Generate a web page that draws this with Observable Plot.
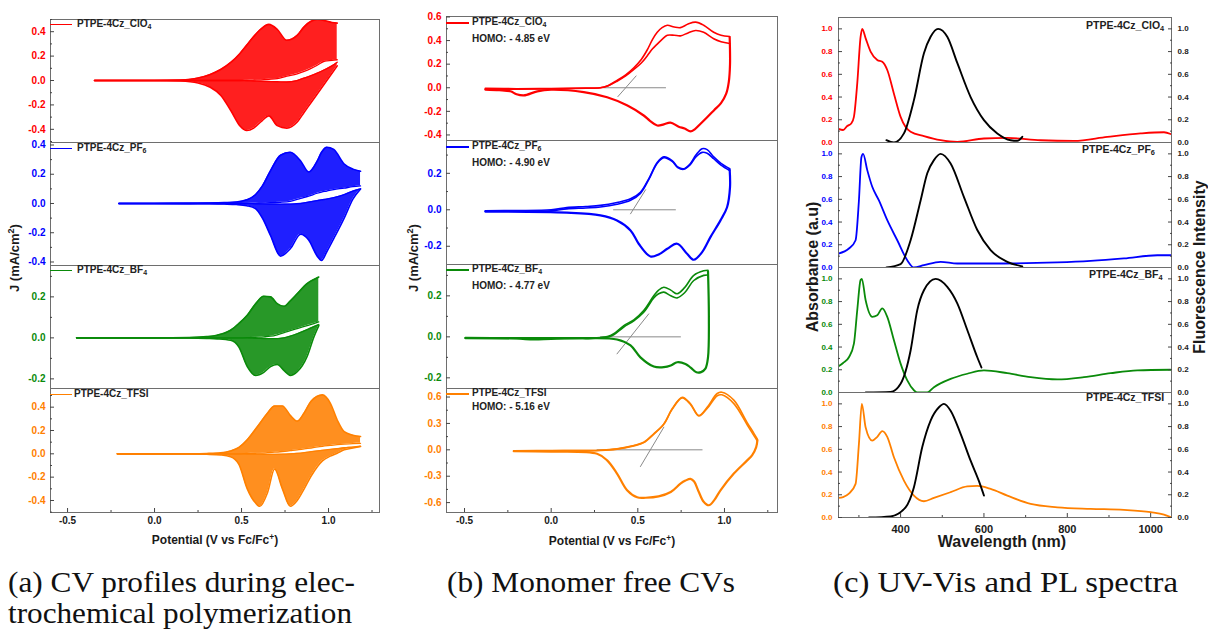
<!DOCTYPE html>
<html>
<head>
<meta charset="utf-8">
<script src="https://cdn.jsdelivr.net/npm/d3@7"></script>
<script src="https://cdn.jsdelivr.net/npm/@observablehq/plot@0.6"></script>
<style>
  body { margin: 0; background: #fff; }
  #fig { position: relative; width: 1208px; height: 632px; overflow: hidden; background: #fff;
         font-family: "Liberation Sans", Arial, sans-serif; color: #1a1a1a; }
  #fig svg.plotsvg { position: absolute; }
  #fig svg.plotsvg text { font-weight: bold; }
  .lab { position: absolute; font-weight: bold; white-space: nowrap; line-height: 1; }
  .lab sub { font-size: 70%; vertical-align: -0.25em; line-height: 0; }
  .lab sup { font-size: 70%; vertical-align: 0.45em; line-height: 0; }
  .rot { transform: translate(-50%, -50%) rotate(-90deg); }
  .ctr { transform: translate(-50%, -50%); }
  .swatch { position: absolute; height: 0; }
</style>
</head>
<body>
<div id="fig"></div>
<script>
// ---------- colours ----------
const RED = "#ff0000", BLUE = "#0000ff", GREEN = "#0a8a0a", ORANGE = "#ff8000";

// ---------- (a) electropolymerisation CVs: first and last cycle of each sweep ----------
const aV_ClO4      = [-0.345, 0.0, 0.15, 0.25, 0.32, 0.38, 0.44, 0.49, 0.53, 0.57, 0.61, 0.657, 0.705, 0.76, 0.82, 0.86, 0.9, 0.935, 0.98, 1.02, 1.05];
const aFwdLast_ClO4  = [0, 0, 0.004, 0.02, 0.05, 0.09, 0.15, 0.22, 0.29, 0.36, 0.42, 0.46, 0.42, 0.33, 0.37, 0.44, 0.485, 0.50, 0.49, 0.475, 0.47];
const aFwdFirst_ClO4 = [0, 0, 0, 0, 0, 0, 0, 0, 0.002, 0.004, 0.006, 0.01, 0.015, 0.035, 0.055, 0.075, 0.10, 0.125, 0.16, 0.165, 0.17];
const aRevFirst_ClO4 = [0, 0, 0, 0, 0, 0, 0, 0, -0.003, -0.004, -0.006, -0.008, -0.01, -0.012, 0.0, 0.02, 0.04, 0.06, 0.09, 0.12, 0.15];
const aRevLast_ClO4  = [0, 0, -0.004, -0.02, -0.055, -0.12, -0.25, -0.37, -0.41, -0.39, -0.34, -0.29, -0.37, -0.39, -0.34, -0.26, -0.18, -0.11, -0.02, 0.06, 0.12];

const aV_PF6       = [-0.205, 0.0, 0.2, 0.3, 0.4, 0.47, 0.53, 0.58, 0.62, 0.667, 0.724, 0.78, 0.84, 0.886, 0.935, 0.96, 0.99, 1.03, 1.09, 1.14, 1.184];
const aFwdLast_PF6   = [0, 0, 0.001, 0.003, 0.006, 0.01, 0.025, 0.06, 0.12, 0.225, 0.33, 0.35, 0.29, 0.215, 0.29, 0.35, 0.385, 0.37, 0.27, 0.235, 0.22];
const aFwdFirst_PF6  = [0, 0, 0, 0, 0, 0, 0.002, 0.003, 0.004, 0.005, 0.008, 0.015, 0.035, 0.05, 0.07, 0.078, 0.085, 0.095, 0.105, 0.115, 0.12];
const aRevFirst_PF6  = [0, 0, 0, 0, 0, 0, 0, -0.002, -0.003, -0.004, -0.005, -0.004, 0.0, 0.01, 0.02, 0.025, 0.03, 0.04, 0.06, 0.085, 0.10];
const aRevLast_PF6   = [0, 0, -0.001, -0.002, -0.004, -0.007, -0.015, -0.035, -0.10, -0.22, -0.36, -0.31, -0.21, -0.25, -0.36, -0.39, -0.33, -0.24, -0.10, 0.03, 0.10];

const aV_BF4       = [-0.448, 0.0, 0.2, 0.3, 0.36, 0.437, 0.485, 0.533, 0.58, 0.628, 0.667, 0.705, 0.745, 0.78, 0.82, 0.877, 0.916, 0.944];
const aFwdLast_BF4   = [0, 0, 0.002, 0.006, 0.013, 0.037, 0.07, 0.11, 0.165, 0.203, 0.20, 0.167, 0.154, 0.18, 0.215, 0.265, 0.285, 0.297];
const aFwdFirst_BF4  = [0, 0, 0, 0, 0, 0, 0, 0.001, 0.003, 0.005, 0.008, 0.015, 0.025, 0.035, 0.045, 0.06, 0.07, 0.078];
const aRevFirst_BF4  = [0, 0, 0, 0, 0, 0, 0, 0, -0.002, -0.003, -0.004, -0.004, 0.0, 0.008, 0.02, 0.04, 0.055, 0.065];
const aRevLast_BF4   = [0, 0, -0.001, -0.003, -0.005, -0.012, -0.045, -0.14, -0.183, -0.168, -0.14, -0.13, -0.16, -0.183, -0.165, -0.09, 0.005, 0.06];

const aV_TFSI      = [-0.214, 0.0, 0.2, 0.3, 0.38, 0.437, 0.485, 0.533, 0.58, 0.605, 0.65, 0.69, 0.735, 0.78, 0.82, 0.86, 0.9, 0.965, 1.01, 1.05, 1.09, 1.14, 1.184];
const aFwdLast_TFSI  = [0, 0, 0.001, 0.003, 0.008, 0.025, 0.055, 0.12, 0.21, 0.26, 0.35, 0.41, 0.41, 0.33, 0.28, 0.35, 0.45, 0.505, 0.435, 0.29, 0.19, 0.16, 0.148];
const aFwdFirst_TFSI = [0, 0, 0, 0, 0, 0, 0, 0.003, 0.005, 0.006, 0.01, 0.014, 0.02, 0.027, 0.033, 0.042, 0.05, 0.065, 0.072, 0.078, 0.083, 0.088, 0.09];
const aRevFirst_TFSI = [0, 0, 0, 0, 0, 0, 0, -0.002, -0.003, -0.003, -0.004, -0.004, -0.003, 0.0, 0.004, 0.01, 0.018, 0.03, 0.038, 0.045, 0.052, 0.058, 0.065];
const aRevLast_TFSI  = [0, 0, -0.001, -0.004, -0.01, -0.025, -0.09, -0.30, -0.42, -0.45, -0.33, -0.13, -0.30, -0.45, -0.40, -0.30, -0.19, -0.06, -0.02, 0.005, 0.034, 0.05, 0.063];

// ---------- (b) monomer-free CVs: [V, J] pairs ----------
const bFwdA_ClO4 = [[-0.38,-0.005],[-0.2,-0.008],[0,-0.006],[0.2,-0.002],[0.284,0],[0.33,0.02],[0.38,0.062],[0.43,0.11],[0.477,0.17],[0.52,0.24],[0.554,0.32],[0.585,0.41],[0.612,0.47],[0.64,0.51],[0.67,0.53],[0.71,0.515],[0.746,0.51],[0.79,0.54],[0.833,0.556],[0.88,0.53],[0.938,0.47],[0.98,0.445],[1.03,0.435]];
const bFwdB_ClO4 = [[-0.38,-0.01],[-0.2,-0.012],[0,-0.01],[0.2,-0.004],[0.284,0],[0.33,0.018],[0.38,0.055],[0.43,0.1],[0.477,0.155],[0.52,0.21],[0.554,0.27],[0.585,0.33],[0.612,0.37],[0.64,0.41],[0.67,0.445],[0.71,0.445],[0.746,0.44],[0.79,0.465],[0.833,0.485],[0.88,0.47],[0.938,0.415],[0.98,0.39],[1.03,0.375]];
const bRev_ClO4  = [[1.03,0.43],[1.032,0.2],[1.025,0.05],[1.01,-0.05],[0.98,-0.13],[0.94,-0.19],[0.9,-0.25],[0.862,-0.305],[0.83,-0.35],[0.804,-0.37],[0.77,-0.345],[0.736,-0.33],[0.688,-0.295],[0.65,-0.31],[0.612,-0.32],[0.57,-0.28],[0.534,-0.235],[0.44,-0.15],[0.323,-0.08],[0.188,-0.037],[0,-0.017],[-0.08,-0.03],[-0.158,-0.065],[-0.2,-0.055],[-0.235,-0.03],[-0.3,-0.02],[-0.38,-0.015]];
const bTangent_ClO4  = [[0.385,-0.075],[0.49,0.1]];
const bBaseline_ClO4 = [[0.30,0],[0.66,0]];

const bFwdA_PF6 = [[-0.38,-0.005],[-0.2,-0.004],[0,0],[0.09,0.012],[0.2,0.018],[0.284,0.024],[0.38,0.04],[0.458,0.06],[0.515,0.096],[0.563,0.17],[0.612,0.26],[0.65,0.29],[0.698,0.27],[0.73,0.235],[0.765,0.225],[0.8,0.25],[0.835,0.3],[0.871,0.335],[0.9,0.33],[0.938,0.29],[0.98,0.255],[1.03,0.225]];
const bFwdB_PF6 = [[-0.38,-0.008],[-0.2,-0.008],[0,-0.005],[0.09,0.005],[0.2,0.01],[0.284,0.015],[0.38,0.03],[0.458,0.052],[0.515,0.09],[0.563,0.165],[0.612,0.255],[0.65,0.285],[0.698,0.265],[0.73,0.232],[0.765,0.222],[0.8,0.245],[0.835,0.29],[0.871,0.315],[0.9,0.31],[0.938,0.28],[0.98,0.245],[1.03,0.215]];
const bRev_PF6  = [[1.03,0.22],[1.032,0.124],[1.015,0.014],[0.977,-0.058],[0.919,-0.15],[0.871,-0.232],[0.823,-0.274],[0.784,-0.241],[0.727,-0.186],[0.67,-0.214],[0.62,-0.245],[0.573,-0.256],[0.505,-0.186],[0.458,-0.113],[0.38,-0.059],[0.284,-0.031],[0.09,-0.016],[-0.38,-0.01]];
const bTangent_PF6  = [[0.458,-0.022],[0.545,0.11]];
const bBaseline_PF6 = [[0.36,0],[0.717,0]];

const bFwdA_BF4 = [[-0.495,-0.005],[0,-0.005],[0.284,-0.003],[0.33,0.003],[0.361,0.015],[0.419,0.055],[0.477,0.083],[0.534,0.128],[0.592,0.2],[0.62,0.228],[0.65,0.242],[0.69,0.228],[0.727,0.21],[0.77,0.24],[0.823,0.3],[0.88,0.322],[0.905,0.325]];
const bFwdB_BF4 = [[-0.495,-0.008],[0,-0.008],[0.284,-0.005],[0.33,0.0],[0.361,0.01],[0.419,0.048],[0.477,0.078],[0.534,0.12],[0.592,0.19],[0.62,0.21],[0.65,0.218],[0.69,0.2],[0.727,0.19],[0.77,0.215],[0.823,0.275],[0.88,0.3],[0.905,0.302]];
const bRev_BF4  = [[0.905,0.32],[0.91,0.1],[0.905,-0.1],[0.89,-0.155],[0.865,-0.172],[0.838,-0.173],[0.805,-0.15],[0.775,-0.132],[0.727,-0.124],[0.69,-0.14],[0.65,-0.148],[0.592,-0.145],[0.515,-0.1],[0.458,-0.042],[0.38,-0.013],[0.2,-0.007],[0,-0.01],[-0.1,-0.013],[-0.2,-0.008],[-0.495,-0.005]];
const bTangent_BF4  = [[0.38,-0.083],[0.563,0.112]];
const bBaseline_BF4 = [[0.284,0],[0.746,0]];

const bFwdA_TFSI = [[-0.216,-0.01],[0,-0.008],[0.284,-0.005],[0.38,0.011],[0.477,0.049],[0.534,0.086],[0.592,0.182],[0.65,0.295],[0.698,0.466],[0.756,0.598],[0.804,0.523],[0.852,0.39],[0.9,0.484],[0.958,0.64],[0.985,0.655],[1.054,0.565],[1.131,0.31],[1.169,0.19],[1.19,0.12]];
const bFwdB_TFSI = [[-0.216,-0.012],[0,-0.01],[0.284,-0.006],[0.38,0.008],[0.477,0.045],[0.534,0.082],[0.592,0.178],[0.65,0.29],[0.698,0.46],[0.756,0.59],[0.804,0.515],[0.852,0.385],[0.9,0.47],[0.958,0.615],[0.985,0.625],[1.054,0.525],[1.131,0.285],[1.169,0.165],[1.19,0.1]];
const bRev_TFSI  = [[1.19,0.11],[1.183,0.03],[1.16,-0.06],[1.131,-0.12],[1.054,-0.27],[0.977,-0.46],[0.94,-0.575],[0.91,-0.63],[0.88,-0.59],[0.85,-0.47],[0.825,-0.36],[0.804,-0.33],[0.775,-0.35],[0.746,-0.385],[0.69,-0.48],[0.62,-0.53],[0.545,-0.545],[0.496,-0.54],[0.438,-0.46],[0.38,-0.27],[0.323,-0.12],[0.265,-0.045],[0,-0.02],[-0.216,-0.015]];
const bTangent_TFSI  = [[0.515,-0.19],[0.65,0.257]];
const bBaseline_TFSI = [[0.265,0],[0.871,0]];

// ---------- (c) UV-Vis absorbance and PL: [wavelength nm, normalised intensity] ----------
const cAbs_ClO4 = [[251,0.12],[262,0.11],[272,0.145],[282,0.17],[288,0.226],[296,0.52],[304,0.93],[308,1.0],[316,0.918],[328,0.8],[344,0.726],[356,0.71],[368,0.638],[384,0.43],[400,0.226],[424,0.094],[456,0.056],[496,0.02],[536,0.005],[600,0.035],[656,0.04],[736,0.02],[816,0.015],[896,0.05],[976,0.08],[1032,0.09],[1048,0.075]];
const cPL_ClO4  = [[366,0.02],[384,0.0],[408,0.08],[432,0.373],[456,0.785],[472,0.93],[490,1.0],[512,0.93],[536,0.70],[568,0.40],[600,0.197],[632,0.08],[664,0.02],[680,0.015],[692,0.05]];
const cAbs_PF6  = [[251,0.123],[276,0.167],[292,0.24],[300,0.59],[306,0.97],[310,1.0],[320,0.857],[332,0.71],[348,0.59],[368,0.416],[392,0.24],[416,0.064],[432,0.0],[456,0.02],[496,0.05],[536,0.035],[616,0.035],[776,0.045],[856,0.058],[936,0.08],[1016,0.108],[1048,0.108]];
const cPL_PF6   = [[366,0.0],[400,0.03],[424,0.24],[448,0.59],[464,0.83],[480,0.945],[496,1.0],[520,0.915],[552,0.62],[584,0.33],[616,0.152],[656,0.05],[692,0.01]];
const cAbs_BF4  = [[251,0.23],[262,0.26],[276,0.31],[288,0.43],[296,0.725],[304,0.99],[307,1.0],[316,0.814],[332,0.666],[344,0.68],[356,0.74],[368,0.666],[384,0.46],[400,0.254],[416,0.106],[432,0.02],[440,0.0],[464,0.0],[480,0.047],[520,0.12],[560,0.165],[600,0.195],[656,0.17],[712,0.135],[776,0.115],[840,0.135],[904,0.17],[968,0.195],[1048,0.2]];
const cPL_BF4   = [[316,0.0],[376,0.005],[400,0.077],[424,0.37],[440,0.725],[456,0.9],[484,1.0],[512,0.93],[536,0.785],[560,0.55],[584,0.31],[594,0.22]];
const cAbs_TFSI = [[251,0.173],[262,0.18],[276,0.21],[292,0.296],[300,0.648],[307,1.0],[316,0.794],[332,0.677],[344,0.71],[356,0.76],[368,0.71],[384,0.53],[408,0.325],[432,0.193],[456,0.143],[480,0.173],[520,0.223],[560,0.273],[584,0.278],[616,0.252],[656,0.193],[712,0.12],[776,0.09],[856,0.076],[936,0.067],[1000,0.047],[1032,0.026],[1048,0.003]];
const cPL_TFSI  = [[324,0.0],[376,0.01],[412,0.09],[432,0.267],[452,0.62],[472,0.853],[492,0.97],[504,1.0],[520,0.94],[544,0.736],[568,0.5],[588,0.32],[600,0.193]];

// ---------- ticks and labels ----------
const potTicks = [-0.5, 0, 0.5, 1.0];
const potMinor = [-0.25, 0.25, 0.75, 1.25];
const nmTicks = [400, 600, 800, 1000];
const nmMinor = [300, 500, 700, 900];
const intTicks = [0, 0.2, 0.4, 0.6, 0.8, 1.0];
const intMinor = [0.1, 0.3, 0.5, 0.7, 0.9];
const anions = [["ClO", "4"], ["PF", "6"], ["BF", "4"], ["TFSI", ""]];
const homoValues = ["- 4.85 eV", "- 4.90 eV", "- 4.77 eV", "- 5.16 eV"];
const captions = [["(a) CV profiles during elec-", "trochemical polymerization"], ["(b) Monomer free CVs"], ["(c) UV-Vis and PL spectra"]];

const fig = document.getElementById("fig");
const f1 = d => d.toFixed(1);
const blank = () => "";

// place one framed panel so its plotting frame sits at [x0,x1]×[y0,y1] in the figure
function panel({frame, xDomain, yDomain, marks, left, right, bottom}) {
  const [x0, x1, y0, y1] = frame;
  const mL = 44, mR = 36, mT = 6, mB = 30;
  const axes = [];
  if (left) {
    axes.push(Plot.axisY(left.minor, {anchor: "left", tickSize: 2, dx: 2, tickFormat: blank, label: null, stroke: "#444"}));
    axes.push(Plot.axisY(left.ticks, {anchor: "left", tickSize: 4, dx: 4, tickFormat: blank, label: null, stroke: "#444"}));
    axes.push(Plot.axisY(left.ticks, {anchor: "left", tickSize: 0, tickPadding: left.pad ?? 5, tickFormat: f1, label: null, color: left.color, fontSize: left.fontSize ?? 10}));
  }
  if (right) {
    axes.push(Plot.axisY(right.minor, {anchor: "right", tickSize: 2, dx: -2, tickFormat: blank, label: null, stroke: "#444"}));
    axes.push(Plot.axisY(right.ticks, {anchor: "right", tickSize: 4, dx: -4, tickFormat: blank, label: null, stroke: "#444"}));
    axes.push(Plot.axisY(right.ticks, {anchor: "right", tickSize: 0, tickPadding: 6, tickFormat: f1, label: null, color: "#222", fontSize: right.fontSize ?? 8}));
  }
  if (bottom) {
    axes.push(Plot.axisX(bottom.minor, {anchor: "bottom", tickSize: 2, dy: -2, tickFormat: blank, label: null, stroke: "#444"}));
    axes.push(Plot.axisX(bottom.ticks, {anchor: "bottom", tickSize: 4, dy: -4, tickFormat: blank, label: null, stroke: "#444"}));
    axes.push(Plot.axisX(bottom.ticks, {anchor: "bottom", tickSize: 0, tickPadding: bottom.pad ?? 4, tickFormat: bottom.format, label: null, color: "#1a1a1a", fontSize: bottom.fontSize ?? 10}));
  }
  const svg = Plot.plot({
    width: (x1 - x0) + mL + mR,
    height: (y1 - y0) + mT + mB,
    marginLeft: mL, marginRight: mR, marginTop: mT, marginBottom: mB,
    style: {background: "transparent", overflow: "visible", fontFamily: "'Liberation Sans', Arial, sans-serif"},
    x: {domain: xDomain, axis: null},
    y: {domain: yDomain, axis: null},
    marks: [...marks, Plot.frame({stroke: "#6e6e6e", strokeWidth: 1}), ...axes]
  });
  svg.classList.add("plotsvg");
  svg.style.left = (x0 - mL) + "px";
  svg.style.top = (y0 - mT) + "px";
  fig.append(svg);
}

function label(html, x, y, size, cls, extra = "") {
  const d = document.createElement("div");
  d.className = "lab " + cls;
  d.style.left = x + "px"; d.style.top = y + "px"; d.style.fontSize = size + "px";
  d.style.cssText += extra;
  d.innerHTML = html;
  fig.append(d);
  return d;
}
function swatch(x0, x1, y, color, w) {
  const d = document.createElement("div");
  d.className = "swatch";
  d.style.left = x0 + "px"; d.style.width = (x1 - x0) + "px";
  d.style.top = (y - w / 2) + "px"; d.style.borderTop = `${w}px solid ${color}`;
  fig.append(d);
}
const seriesName = ([base, sub]) => `PTPE-4Cz_${base}${sub ? `<sub>${sub}</sub>` : ""}`;

// ---------- panel (a) ----------
const aRows = [
  {V: aV_ClO4, fl: aFwdLast_ClO4, ff: aFwdFirst_ClO4, rf: aRevFirst_ClO4, rl: aRevLast_ClO4, color: RED,    y: [-0.508, 0.5],  ticks: [-0.4, -0.2, 0, 0.2, 0.4], minor: [-0.5, -0.3, -0.1, 0.1, 0.3, 0.5], top: 19,  bot: 142, leg: 25},
  {V: aV_PF6,  fl: aFwdLast_PF6,  ff: aFwdFirst_PF6,  rf: aRevFirst_PF6,  rl: aRevLast_PF6,  color: BLUE,   y: [-0.424, 0.417], ticks: [-0.4, -0.2, 0, 0.2, 0.4], minor: [-0.3, -0.1, 0.1, 0.3], top: 142, bot: 265, leg: 149},
  {V: aV_BF4,  fl: aFwdLast_BF4,  ff: aFwdFirst_BF4,  rf: aRevFirst_BF4,  rl: aRevLast_BF4,  color: GREEN,  y: [-0.247, 0.353], ticks: [-0.2, 0, 0.2], minor: [-0.1, 0.1, 0.3], top: 265, bot: 388, leg: 271},
  {V: aV_TFSI, fl: aFwdLast_TFSI, ff: aFwdFirst_TFSI, rf: aRevFirst_TFSI, rl: aRevLast_TFSI, color: ORANGE, y: [-0.503, 0.56],  ticks: [-0.4, -0.2, 0, 0.2, 0.4], minor: [-0.5, -0.3, -0.1, 0.1, 0.3, 0.5], top: 388, bot: 512, leg: 395}
];
aRows.forEach((r, i) => {
  const upper = r.V.map((v, k) => ({v, lo: r.ff[k], hi: r.fl[k]}));
  const lower = r.V.map((v, k) => ({v, lo: r.rl[k], hi: r.rf[k]}));
  const curve = "monotone-x";
  const line = (ys, w) => Plot.line(r.V.map((v, k) => [v, ys[k]]), {x: "0", y: "1", stroke: r.color, strokeWidth: w, curve, clip: true});
  panel({
    frame: [50, 379, r.top, r.bot], xDomain: [-0.598, 1.293], yDomain: r.y,
    marks: [
      Plot.areaY(upper, {x: "v", y1: "lo", y2: "hi", fill: r.color, fillOpacity: 0.88, curve, clip: true}),
      Plot.areaY(lower, {x: "v", y1: "lo", y2: "hi", fill: r.color, fillOpacity: 0.88, curve, clip: true}),
      line(r.fl, 1.6), line(r.rl, 1.6), line(r.ff, 1.3), line(r.rf, 1.3)
    ],
    left: {ticks: r.ticks, minor: r.minor, color: r.color},
    bottom: i === 3 ? {ticks: potTicks, minor: potMinor, format: f1} : null
  });
  swatch(50, 72, r.leg, r.color, 1.5);
  label(seriesName(anions[i]), i === 3 ? 74 : 77, r.leg - 6, 10, "", "color:#222");
});
label("J (mA/cm<sup>2</sup>)", 14, 258, 13, "rot");
label("Potential (V vs Fc/Fc<sup>+</sup>)", 215, 540, 12, "ctr");

// ---------- panel (b) ----------
const bRows = [
  {fa: bFwdA_ClO4, fb: bFwdB_ClO4, rv: bRev_ClO4, tg: bTangent_ClO4, bl: bBaseline_ClO4, color: RED,    y: [-0.447, 0.604], ticks: [-0.4, -0.2, 0, 0.2, 0.4, 0.6], minor: [-0.3, -0.1, 0.1, 0.3, 0.5], top: 16,  bot: 140, leg: 23},
  {fa: bFwdA_PF6,  fb: bFwdB_PF6,  rv: bRev_PF6,  tg: bTangent_PF6,  bl: bBaseline_PF6,  color: BLUE,   y: [-0.30, 0.38],   ticks: [-0.2, 0, 0.2], minor: [-0.1, 0.1, 0.3], top: 140, bot: 264, leg: 147},
  {fa: bFwdA_BF4,  fb: bFwdB_BF4,  rv: bRev_BF4,  tg: bTangent_BF4,  bl: bBaseline_BF4,  color: GREEN,  y: [-0.252, 0.353], ticks: [-0.2, 0, 0.2], minor: [-0.1, 0.1, 0.3], top: 264, bot: 388, leg: 270},
  {fa: bFwdA_TFSI, fb: bFwdB_TFSI, rv: bRev_TFSI, tg: bTangent_TFSI, bl: bBaseline_TFSI, color: ORANGE, y: [-0.7125, 0.697], ticks: [-0.6, -0.3, 0, 0.3, 0.6], minor: [-0.45, -0.15, 0.15, 0.45], top: 388, bot: 512, leg: 394}
];
bRows.forEach((r, i) => {
  const c = "catmull-rom";
  panel({
    frame: [446, 777, r.top, r.bot], xDomain: [-0.604, 1.306], yDomain: r.y,
    marks: [
      Plot.line(r.bl, {x: "0", y: "1", stroke: "#8a8a8a", strokeWidth: 1}),
      Plot.line(r.tg, {x: "0", y: "1", stroke: "#8a8a8a", strokeWidth: 1}),
      Plot.line(r.rv, {x: "0", y: "1", stroke: r.color, strokeWidth: 2.2, curve: c, clip: true}),
      Plot.line(r.fb, {x: "0", y: "1", stroke: r.color, strokeWidth: 1.6, curve: c, clip: true}),
      Plot.line(r.fa, {x: "0", y: "1", stroke: r.color, strokeWidth: 1.6, curve: c, clip: true})
    ],
    left: {ticks: r.ticks, minor: r.minor, color: r.color},
    bottom: i === 3 ? {ticks: potTicks, minor: potMinor, format: f1} : null
  });
  swatch(446, 469, r.leg, r.color, 2);
  label(seriesName(anions[i]), 472, r.leg - 6, 10, "", "color:#222");
  label(`HOMO: ${homoValues[i]}`, 472, r.leg + (i === 3 ? 8 : 11), 10, "", "color:#222");
});
label("J (mA/cm<sup>2</sup>)", 413, 258, 13, "rot");
label("Potential (V vs Fc/Fc<sup>+</sup>)", 612, 541, 12, "ctr");

// ---------- panel (c) ----------
const cRows = [
  {abs: cAbs_ClO4, pl: cPL_ClO4, color: RED,    top: 17,  bot: 142, lab: 26,  labRight: 1164},
  {abs: cAbs_PF6,  pl: cPL_PF6,  color: BLUE,   top: 142, bot: 267, lab: 150, labRight: 1155},
  {abs: cAbs_BF4,  pl: cPL_BF4,  color: GREEN,  top: 267, bot: 392, lab: 275, labRight: 1163},
  {abs: cAbs_TFSI, pl: cPL_TFSI, color: ORANGE, top: 392, bot: 517, lab: 398, labRight: 1164}
];
cRows.forEach((r, i) => {
  panel({
    frame: [838, 1171, r.top, r.bot], xDomain: [251, 1050], yDomain: [0, 1.1],
    marks: [
      Plot.line(r.abs, {x: "0", y: "1", stroke: r.color, strokeWidth: 1.8, curve: "monotone-x", clip: true}),
      Plot.line(r.pl, {x: "0", y: "1", stroke: "#000", strokeWidth: 1.9, curve: "monotone-x", clip: true})
    ],
    left: {ticks: intTicks, minor: intMinor, color: r.color, fontSize: 8, pad: 6},
    right: {ticks: intTicks, minor: intMinor, fontSize: 8},
    bottom: i === 3 ? {ticks: nmTicks, minor: nmMinor, format: d => String(d), fontSize: 11, pad: 8} : null
  });
  const d = label(seriesName(anions[i]), 0, r.lab - 6, 10.5, "", "color:#222");
  d.style.left = (r.labRight - d.offsetWidth) + "px";
});
label("Absorbance (a.u)", 813, 267, 16, "rot");
label("Fluorescence Intensity", 1200, 267, 16, "rot");
label("Wavelength (nm)", 1002, 542, 16, "ctr");

// ---------- sub-figure captions ----------
const capSvg = d3.create("svg").attr("width", 1208).attr("height", 90)
  .style("position", "absolute").style("left", "0px").style("top", "552px");
const capSpecs = [
  {x: 8, lines: captions[0], widths: [347, 344]},
  {x: 447, lines: captions[1], widths: [288]},
  {x: 833, lines: captions[2], widths: [345]}
];
capSpecs.forEach(s => s.lines.forEach((t, k) => {
  capSvg.append("text").attr("x", s.x).attr("y", 40 + k * 31)
    .attr("textLength", s.widths[k]).attr("lengthAdjust", "spacingAndGlyphs")
    .attr("font-family", "Liberation Serif").attr("font-size", 30)
    .attr("fill", "#111").text(t);
}));
fig.append(capSvg.node());
</script>
</body>
</html>
